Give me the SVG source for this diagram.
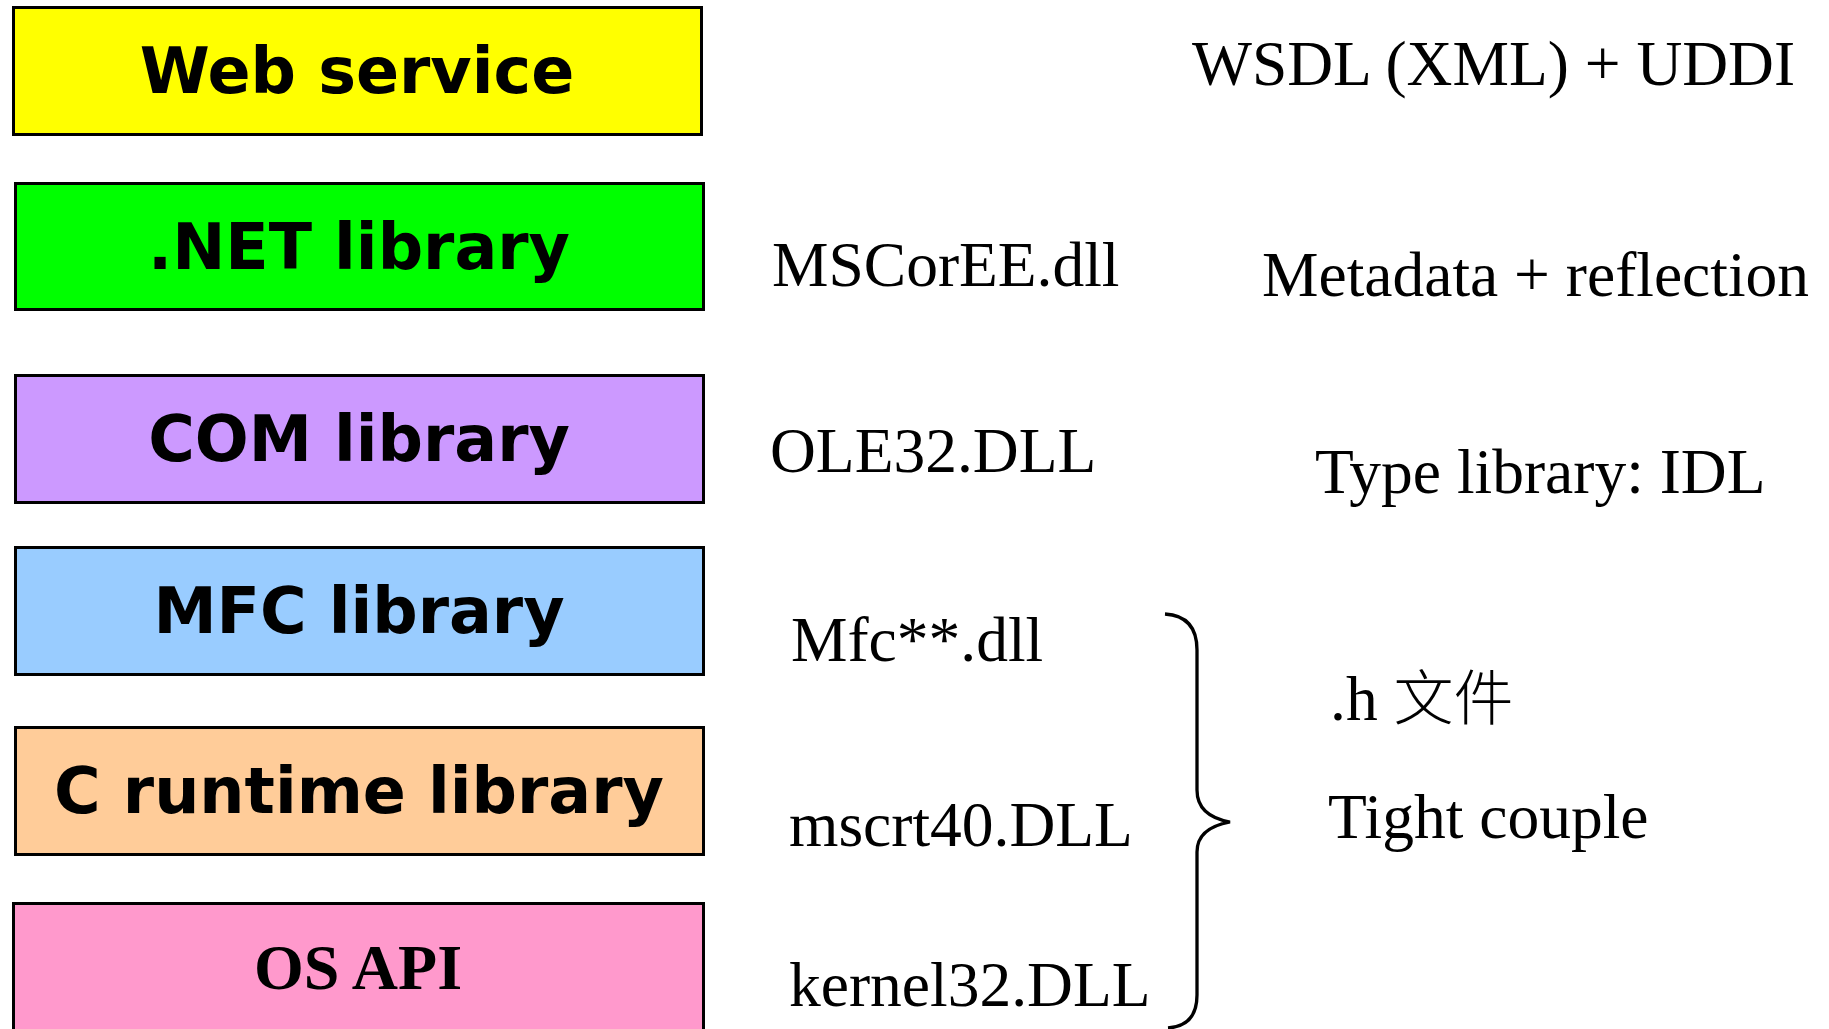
<svg xmlns="http://www.w3.org/2000/svg" width="1829" height="1029" viewBox="0 0 1829 1029">
<style>
.box{stroke:#000;stroke-width:3}
.lbl{font-family:"DejaVu Sans",Verdana,sans-serif;font-weight:bold;font-size:63.5px;text-anchor:middle;fill:#000}
.lblserif{font-family:"Liberation Serif","Times New Roman",serif;font-weight:bold;font-size:64px;text-anchor:middle;fill:#000}
.note{font-family:"Liberation Serif","Times New Roman","Noto Sans CJK SC",serif;font-size:63.5px;fill:#000}
.brace{fill:none;stroke:#000;stroke-width:3.3}
</style>
<rect width="1829" height="1029" fill="#fff"/>
<g id="web-service">
<rect class="box" x="13.5" y="7.5" width="688" height="127" fill="#FFFF00"/>
<text class="lbl" x="357" y="93">Web service</text>
</g>
<g id="net-library">
<rect class="box" x="15.5" y="183.5" width="688" height="126" fill="#00FF00"/>
<text class="lbl" x="359" y="269">.NET library</text>
</g>
<g id="com-library">
<rect class="box" x="15.5" y="375.5" width="688" height="127" fill="#CC99FF"/>
<text class="lbl" x="359" y="461">COM library</text>
</g>
<g id="mfc-library">
<rect class="box" x="15.5" y="547.5" width="688" height="127" fill="#99CCFF"/>
<text class="lbl" x="359" y="633">MFC library</text>
</g>
<g id="c-runtime-library">
<rect class="box" x="15.5" y="727.5" width="688" height="127" fill="#FFCC99"/>
<text class="lbl" x="359" y="813">C runtime library</text>
</g>
<g id="os-api">
<rect class="box" x="13.5" y="903.5" width="690" height="140" fill="#FF99CC"/>
<text class="lblserif" x="358" y="989">OS API</text>
</g>
<g id="dll-labels">
<text class="note" x="772" y="286">MSCorEE.dll</text>
<text class="note" x="770" y="472">OLE32.DLL</text>
<text class="note" x="791" y="661">Mfc**.dll</text>
<text class="note" x="789" y="846">mscrt40.DLL</text>
<text class="note" x="789" y="1006">kernel32.DLL</text>
</g>
<g id="description-labels">
<text class="note" x="1192" y="85">WSDL (XML) + UDDI</text>
<text class="note" x="1262" y="296">Metadata + reflection</text>
<text class="note" x="1315" y="493">Type library: IDL</text>
<text class="note" x="1330" y="720">.h <tspan font-family="'Noto Sans CJK SC',serif" font-size="60" font-weight="300">文件</tspan></text>
<text class="note" x="1328" y="838">Tight couple</text>
</g>
<g id="connectors">
<path class="brace" d="M1165,614 Q1197,616 1197,650 L1197,790 Q1197,816 1230,822 Q1197,828 1197,852 L1197,995 Q1197,1026 1168,1028"/>
</g>
</svg>
